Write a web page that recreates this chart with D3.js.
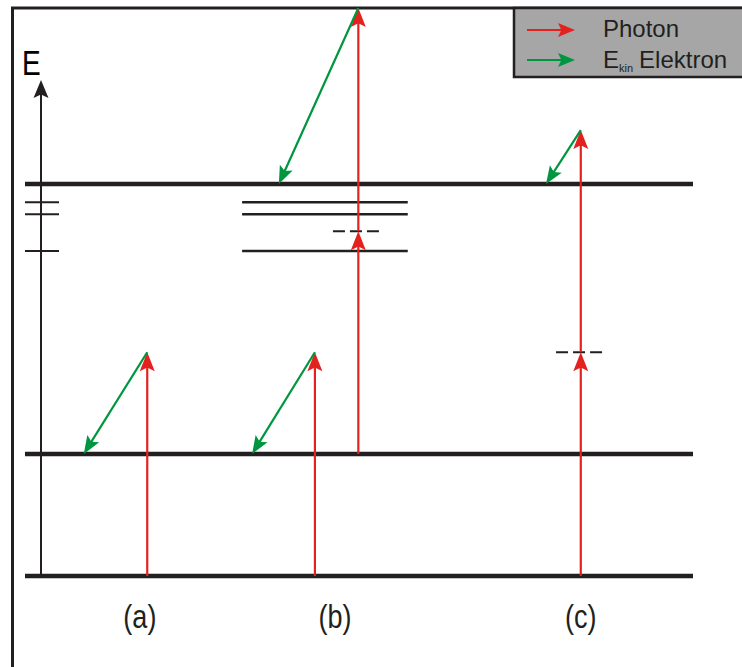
<!DOCTYPE html>
<html>
<head>
<meta charset="utf-8">
<script src="https://cdn.jsdelivr.net/npm/d3@7"></script>
<style>
  html, body { margin: 0; padding: 0; background: #fff; }
  svg { display: block; font-family: "Liberation Sans", Arial, sans-serif; }
</style>
</head>
<body>
<svg id="chart" width="742" height="667"></svg>
<script>
// Energy-level diagram: photon absorption (red) and kinetic electron energy (green)

// Energy of the three main bands (thick lines)
const bandEnergies = [0, 21.5, 69.0];
// Discrete levels just below the upper band (short marks on the E axis)
const axisLevelEnergies = [65.8, 63.7, 57.2];
// Discrete levels drawn in panel (b)
const panelLevelEnergies = [65.8, 63.7, 57.2];
// Virtual (dashed) intermediate levels: [x start, x end, energy]
const virtualLevels = [[46.1, 53.1, 60.7], [79.5, 86.7, 39.4]];
// Photon arrows: [x, start energy, end energy]
const photons = [
  [18.3, 0, 39.4],
  [43.4, 0, 39.4],
  [49.9, 21.5, 60.7],
  [49.9, 60.7, 100],
  [83.2, 0, 39.4],
  [83.2, 39.4, 78.5]
];
// Electron arrows: [x start, start energy, x end, end energy]
const electrons = [
  [18.3, 39.4, 8.8, 21.5],
  [43.4, 39.4, 34.0, 21.5],
  [49.9, 100, 38.0, 69.0],
  [83.2, 78.5, 78.0, 69.0]
];
// Panel labels and their x positions
const panelLabels = ["(a)", "(b)", "(c)"];
const panelLabelX = [17.2, 46.4, 83.2];
// Legend entries
const legendLabels = ["Photon", "Elektron"];

const RED = "#e3221f", GREEN = "#009640", INK = "#231f20";

const svg = d3.select("#chart");
const x = d3.scaleLinear().domain([0, 100]).range([25, 693]);
const y = d3.scaleLinear().domain([0, 100]).range([576, 8]);

// Draw an arrow line from (x0,y0) to (x1,y1) with a filled head at the end
function arrow(g, x0, y0, x1, y1, color, width, headLen, headHalf) {
  const dx = x1 - x0, dy = y1 - y0, L = Math.hypot(dx, dy);
  const ux = dx / L, uy = dy / L, nx = -uy, ny = ux;
  const bx = x1 - ux * headLen, by = y1 - uy * headLen;
  const notch = headLen * 0.8;
  g.append("line")
    .attr("x1", x0).attr("y1", y0)
    .attr("x2", x1 - ux * notch * 0.9).attr("y2", y1 - uy * notch * 0.9)
    .attr("stroke", color).attr("stroke-width", width);
  const pts = [
    [x1, y1],
    [bx + nx * headHalf, by + ny * headHalf],
    [x1 - ux * notch, y1 - uy * notch],
    [bx - nx * headHalf, by - ny * headHalf]
  ];
  g.append("polygon").attr("points", pts.map(p => p.join(",")).join(" ")).attr("fill", color);
}

// Frame (top and left edges)
svg.append("path")
  .attr("d", d3.line()([[12.5, 667], [12.5, 8], [742, 8]]))
  .attr("fill", "none").attr("stroke", INK).attr("stroke-width", 3);

// Energy axis
const axisX = 41;
const axisG = svg.append("g");
arrow(axisG, axisX, y(0), axisX, 80, INK, 2, 18, 7.5);
svg.append("text").attr("x", 22).attr("y", 75)
  .attr("font-size", 35).attr("fill", "#000")
  .attr("transform", "translate(22,0) scale(0.8,1) translate(-22,0)")
  .text("E");

// Short level marks on the axis
svg.selectAll(".axisLevel").data(axisLevelEnergies).join("line")
  .attr("x1", x(0)).attr("x2", 59)
  .attr("y1", d => y(d)).attr("y2", d => y(d))
  .attr("stroke", INK).attr("stroke-width", 2);

// Main bands
svg.selectAll(".band").data(bandEnergies).join("line")
  .attr("x1", x(0)).attr("x2", x(100))
  .attr("y1", d => y(d)).attr("y2", d => y(d))
  .attr("stroke", INK).attr("stroke-width", 4.5);

// Levels in panel (b)
svg.selectAll(".panelLevel").data(panelLevelEnergies).join("line")
  .attr("x1", x(32.5)).attr("x2", x(57.3))
  .attr("y1", d => y(d)).attr("y2", d => y(d))
  .attr("stroke", INK).attr("stroke-width", 2.5);

// Virtual levels
svg.selectAll(".virtual").data(virtualLevels).join("line")
  .attr("x1", d => x(d[0])).attr("x2", d => x(d[1]))
  .attr("y1", d => y(d[2])).attr("y2", d => y(d[2]))
  .attr("stroke", INK).attr("stroke-width", 2).attr("stroke-dasharray", "12,5");

// Photon and electron arrows
const arrowsG = svg.append("g");
photons.forEach(d => arrow(arrowsG, x(d[0]), y(d[1]), x(d[0]), y(d[2]), RED, 2.2, 19, 7.5));
electrons.forEach(d => arrow(arrowsG, x(d[0]), y(d[1]), x(d[2]), y(d[3]), GREEN, 2.2, 18, 7));

// Panel labels
svg.selectAll(".panelLabel").data(panelLabels).join("text")
  .attr("x", (d, i) => x(panelLabelX[i])).attr("y", 628)
  .attr("text-anchor", "middle").attr("font-size", 33).attr("fill", INK)
  .attr("transform", (d, i) => `translate(${x(panelLabelX[i])},0) scale(0.82,1) translate(${-x(panelLabelX[i])},0)`)
  .text(d => d);

// Legend
const lg = svg.append("g");
lg.append("rect").attr("x", 514).attr("y", 8).attr("width", 240).attr("height", 69)
  .attr("fill", "#a6a6a6").attr("stroke", INK).attr("stroke-width", 2.5);
arrow(lg, 527, 30, 575, 30, RED, 2.2, 17, 7);
arrow(lg, 527, 60, 575, 60, GREEN, 2.2, 17, 7);
lg.append("text").attr("x", 603).attr("y", 37).attr("font-size", 24).attr("fill", INK).text(legendLabels[0]);
const t2 = lg.append("text").attr("x", 603).attr("y", 68).attr("font-size", 24).attr("fill", INK);
t2.append("tspan").text("E");
t2.append("tspan").attr("font-size", 11).attr("dy", 4).text("kin");
t2.append("tspan").attr("dy", -4).attr("dx", 6).text(legendLabels[1]);
</script>
</body>
</html>
